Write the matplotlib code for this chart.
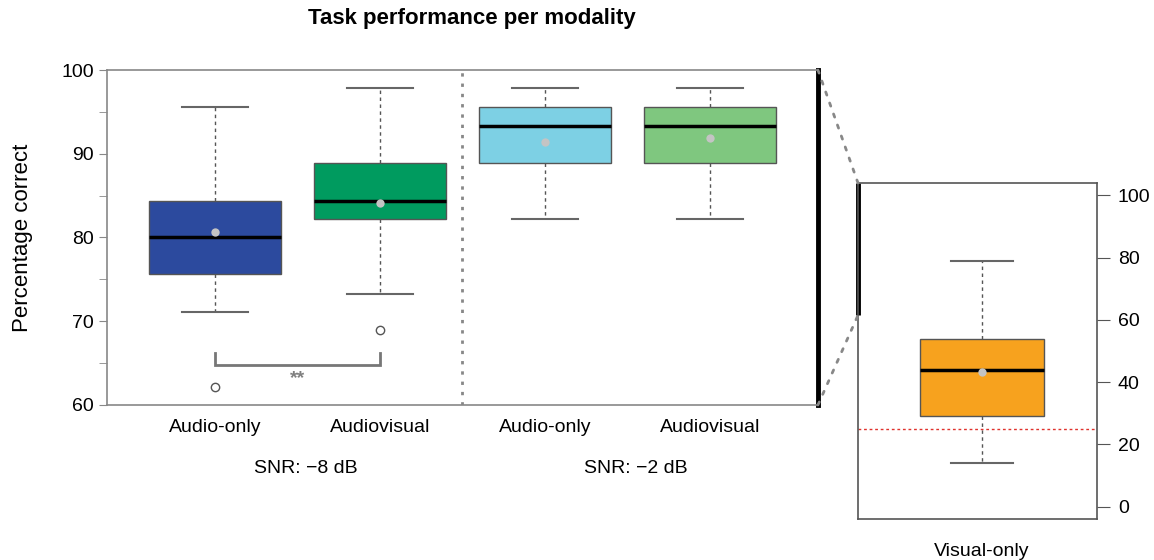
import matplotlib
matplotlib.use("Agg")
import matplotlib.pyplot as plt
from matplotlib.patches import ConnectionPatch

plt.rcParams['font.family'] = ['Liberation Sans', 'DejaVu Sans']

# data (percentage correct)
conditions = ['Audio-only', 'Audiovisual', 'Audio-only', 'Audiovisual']
snr_groups = ['SNR: \u22128 dB', 'SNR: \u22122 dB']
box_colors = ['#2c4a9e', '#009b5f', '#7dd0e4', '#7fc77f']
whislo = [71.1, 73.3, 82.2, 82.2]
q1 = [75.6, 82.2, 88.9, 88.9]
med = [80.0, 84.4, 93.3, 93.3]
q3 = [84.4, 88.9, 95.6, 95.6]
whishi = [95.6, 97.8, 97.8, 97.8]
means = [80.6, 84.1, 91.4, 91.9]
fliers = [[62.2], [68.9], [], []]

vis_label = 'Visual-only'
vis_color = '#f7a21e'
vis_stats = dict(whislo=14, q1=29, med=44, q3=54, whishi=79, mean=43.4, fliers=[])
chance = 25
sig_text = '**'

box_kw = dict(
    widths=0.8, patch_artist=True, showmeans=True,
    boxprops=dict(edgecolor='#555555', linewidth=1),
    medianprops=dict(color='black', linewidth=2.5),
    whiskerprops=dict(color='#555555', linewidth=1, linestyle=(0, (2.5, 2.5))),
    capprops=dict(color='#666666', linewidth=1.5),
    capwidths=0.4,
    meanprops=dict(marker='o', markerfacecolor='#c4c4c4', markeredgecolor='none', markersize=6),
    flierprops=dict(marker='o', markerfacecolor='white', markeredgecolor='#555555', markersize=6),
)

fig = plt.figure(figsize=(11.54, 5.6), dpi=100)
ax = fig.add_axes([0.0927, 0.2768, 0.6161, 0.5982])
ax2 = fig.add_axes([0.7435, 0.0732, 0.2071, 0.6])

# main panel
stats = []
for i in range(len(conditions)):
    stats.append(dict(whislo=whislo[i], q1=q1[i], med=med[i], q3=q3[i],
                      whishi=whishi[i], mean=means[i], fliers=fliers[i]))
positions = list(range(1, len(conditions) + 1))
bp = ax.bxp(stats, positions=positions, **box_kw)
for patch, c in zip(bp['boxes'], box_colors):
    patch.set_facecolor(c)

ax.set_xlim(0.345, 4.655)
ax.set_ylim(60, 100)
ax.set_yticks([60, 70, 80, 90, 100])
ax.set_yticks([65, 75, 85, 95], minor=True)
ax.set_xticks(positions)
ax.set_xticklabels(conditions, fontsize=14)
ax.tick_params(axis='x', length=0, pad=10)
ax.tick_params(axis='y', which='both', labelsize=14, color='#888888', length=6)
ax.set_ylabel('Percentage correct', fontsize=16, labelpad=20)
for s in ['top', 'left', 'bottom']:
    ax.spines[s].set_color('#888888')
    ax.spines[s].set_linewidth(1.2)
ax.spines['right'].set_color('black')
ax.spines['right'].set_linewidth(3.5)

# separator between SNR blocks
ax.axvline(2.5, color='#888888', linewidth=2, linestyle=(0, (1.2, 2.5)))

# group labels
for k, g in enumerate(snr_groups):
    ax.text(1.55 + 2 * k, -0.19, g, transform=ax.get_xaxis_transform(),
            ha='center', va='center', fontsize=14)

# significance bracket
ax.plot([1, 1, 2, 2], [66.2, 64.8, 64.8, 66.2], color='#777777', linewidth=2,
        solid_joinstyle='miter')
ax.text(1.5, 63.2, sig_text, ha='center', va='center', fontsize=14,
        color='#808080', fontweight='bold')

fig.text(0.409, 0.967, 'Task performance per modality', ha='center', va='center',
         fontsize=16, fontweight='bold')

# inset: visual-only
bp2 = ax2.bxp([vis_stats], positions=[1], **box_kw)
bp2['boxes'][0].set_facecolor(vis_color)
ax2.set_xlim(0.195, 1.747)
ax2.set_ylim(-4, 104)
ax2.axhline(chance, color='#e0322d', linewidth=1, linestyle=(0, (2, 2)))
ax2.yaxis.tick_right()
ax2.set_yticks([0, 20, 40, 60, 80, 100])
ax2.tick_params(axis='y', labelsize=14, color='#555555', length=9, pad=6)
ax2.set_xticks([1])
ax2.set_xticklabels([vis_label], fontsize=14)
ax2.tick_params(axis='x', length=0, pad=17)
for s in ax2.spines.values():
    s.set_color('#555555')
    s.set_linewidth(1.2)
# zoomed range marker on inset left edge
ax2.plot([0, 0], [61.5, 104], transform=ax2.get_yaxis_transform(),
         color='black', linewidth=3.5, clip_on=False, solid_capstyle='butt')

# dotted connectors between panels
for ya, yb in [(1, 104), (0, 61.5)]:
    con = ConnectionPatch(xyA=(1, ya), coordsA=ax.transAxes,
                          xyB=(0, yb), coordsB=ax2.get_yaxis_transform(),
                          color='#888888', linewidth=2, linestyle=(0, (1.2, 3)))
    fig.add_artist(con)

fig.savefig('out.png', dpi=100)
